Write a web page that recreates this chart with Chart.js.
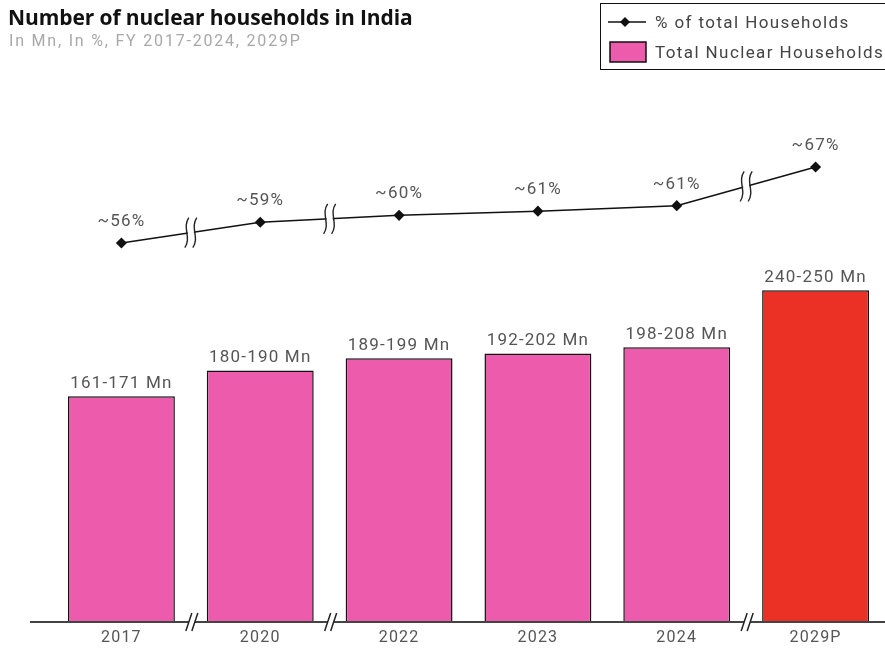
<!DOCTYPE html>
<html>
<head>
<meta charset="utf-8">
<script src="https://cdn.jsdelivr.net/npm/chart.js@4/dist/chart.umd.min.js"></script>
<style>
  html, body { margin:0; padding:0; background:#fff; overflow:hidden; }
  #wrap { position:relative; width:885px; height:651px; }
  #c { position:absolute; left:0; top:0; }
  #title { position:absolute; left:8px; top:3px; font-family:"Open Sans", sans-serif; font-weight:700; font-size:21px; letter-spacing:-0.1px; color:#111; white-space:nowrap; }
  #subtitle { position:absolute; left:9px; top:31px; font-family:Roboto, sans-serif; font-size:16px; color:#a8a8a8; white-space:nowrap; letter-spacing:1.8px; }
  #legend { position:absolute; left:600px; top:3px; width:300px; height:67px; border:1.5px solid #111; box-sizing:border-box; font-family:Roboto, sans-serif; font-size:17px; color:#444; letter-spacing:1.4px; }
  .row { position:absolute; left:0; height:22px; display:flex; align-items:center; white-space:nowrap; }
  .sw { width:44px; height:22px; margin-left:4px; margin-right:6px; position:relative; }
</style>
</head>
<body>
<div id="wrap">
  <canvas id="c" width="885" height="651"></canvas>
  <div id="title">Number of nuclear households in India</div>
  <div id="subtitle">In Mn, In %, FY 2017-2024, 2029P</div>
  <div id="legend">
    <div class="row" style="top:7px;">
      <svg class="sw" width="44" height="22"><line x1="3" y1="11" x2="41" y2="11" stroke="#111" stroke-width="1.5"/><polygon points="20,6 25,11 20,16 15,11" fill="#111"/></svg>
      <span>% of total Households</span>
    </div>
    <div class="row" style="top:37px;">
      <svg class="sw" width="44" height="22"><rect x="5" y="1" width="36" height="20" fill="#EC5BAC" stroke="#111" stroke-width="1.5"/></svg>
      <span>Total Nuclear Households</span>
    </div>
  </div>
</div>
<script>
const categories = ['2017', '2020', '2022', '2023', '2024', '2029P'];
const nuclearHouseholds = [166, 185, 194, 197.5, 202, 244];
const householdLabels = ['161-171 Mn', '180-190 Mn', '189-199 Mn', '192-202 Mn', '198-208 Mn', '240-250 Mn'];
const shareOfHouseholds = [56, 59, 60, 60.6, 61.4, 67];
const shareLabels = ['~56%', '~59%', '~60%', '~61%', '~61%', '~67%'];
const breakAfter = [0, 1, 4];

const PINK = '#EC5BAC';
const RED = '#EB3125';
const barColors = categories.map((c, i) => i === categories.length - 1 ? RED : PINK);

const decorPlugin = {
  id: 'decor',
  beforeDraw(chart) {
    chart.ctx.letterSpacing = '1.2px';
  },
  afterDatasetsDraw(chart) {
    const ctx = chart.ctx;
    const area = chart.chartArea;
    const xs = chart.scales.x;
    const base = area.bottom;
    ctx.save();
    // axis line
    ctx.strokeStyle = '#444';
    ctx.lineWidth = 2;
    ctx.beginPath();
    ctx.moveTo(30, base);
    ctx.lineTo(885, base);
    ctx.stroke();

    // axis break marks
    breakAfter.forEach(i => {
      const x = (xs.getPixelForValue(i) + xs.getPixelForValue(i + 1)) / 2 + 2;
      ctx.fillStyle = '#fff';
      ctx.beginPath();
      ctx.moveTo(x - 7, base + 9);
      ctx.lineTo(x - 1, base - 9);
      ctx.lineTo(x + 5, base - 9);
      ctx.lineTo(x - 1, base + 9);
      ctx.closePath();
      ctx.fill();
      ctx.strokeStyle = '#222';
      ctx.lineWidth = 1.5;
      ctx.beginPath();
      ctx.moveTo(x - 7, base + 9); ctx.lineTo(x - 1, base - 9);
      ctx.moveTo(x - 1, base + 9); ctx.lineTo(x + 5, base - 9);
      ctx.stroke();
    });

    // line break marks
    const lineMeta = chart.getDatasetMeta(1);
    breakAfter.forEach(i => {
      const p0 = lineMeta.data[i], p1 = lineMeta.data[i + 1];
      const x = (p0.x + p1.x) / 2;
      const y = (p0.y + p1.y) / 2;
      const h = 15, g = 4;
      ctx.fillStyle = '#fff';
      ctx.fillRect(x - g + 1, y - 5, 2 * g - 2, 10);
      ctx.strokeStyle = '#222';
      ctx.lineWidth = 1.4;
      [-g, g].forEach(dx => {
        const cx = x + dx;
        ctx.beginPath();
        ctx.moveTo(cx + 2, y - h);
        ctx.bezierCurveTo(cx - 5, y - 5, cx + 5, y + 5, cx - 2, y + h);
        ctx.stroke();
      });
    });

    // labels
    ctx.font = '17px Roboto, sans-serif';
    ctx.fillStyle = '#555';
    ctx.textAlign = 'center';
    ctx.textBaseline = 'alphabetic';
    ctx.letterSpacing = '1.2px';
    const barMeta = chart.getDatasetMeta(0);
    barMeta.data.forEach((b, i) => {
      ctx.fillText(householdLabels[i], b.x, b.y - 8);
    });
    lineMeta.data.forEach((p, i) => {
      ctx.fillText(shareLabels[i], p.x, p.y - 17);
    });
    ctx.restore();
  }
};

new Chart(document.getElementById('c'), {
  data: {
    labels: categories,
    datasets: [
      {
        type: 'bar',
        label: 'Total Nuclear Households',
        data: nuclearHouseholds,
        backgroundColor: barColors,
        borderColor: '#111',
        borderWidth: 1.5,
        barPercentage: 0.77,
        categoryPercentage: 1,
        yAxisID: 'y',
        order: 2
      },
      {
        type: 'line',
        label: '% of total Households',
        data: shareOfHouseholds,
        borderColor: '#111',
        borderWidth: 1.5,
        pointStyle: 'rectRot',
        pointRadius: 4.5,
        pointBackgroundColor: '#111',
        pointBorderColor: '#111',
        tension: 0,
        yAxisID: 'y1',
        order: 1
      }
    ]
  },
  options: {
    responsive: false,
    animation: false,
    devicePixelRatio: 1,
    layout: { autoPadding: false, padding: { top: 80, left: 52, right: -3, bottom: 0 } },
    plugins: { legend: { display: false }, tooltip: { enabled: false } },
    scales: {
      x: {
        offset: true,
        grid: { display: false, drawTicks: false },
        border: { display: false },
        ticks: { color: '#555', font: { family: 'Roboto, sans-serif', size: 16 }, padding: 6, maxRotation: 0 },
        afterFit(s) { s.height = 29; }
      },
      y: { display: false, min: 0, max: 398.5 },
      y1: { display: false, min: 1.1, max: 79.6, position: 'right' }
    }
  },
  plugins: [decorPlugin]
});
</script>
</body>
</html>
